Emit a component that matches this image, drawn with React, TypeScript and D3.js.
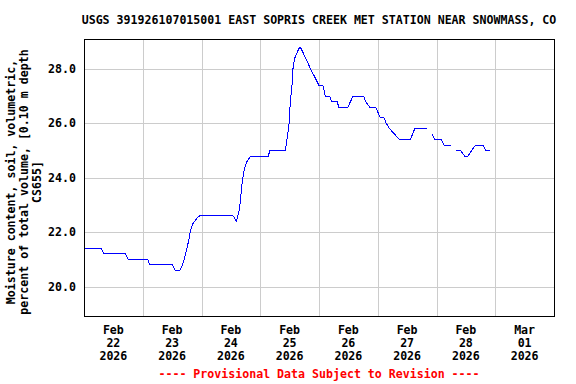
import React from "react";
import * as d3 from "d3";

const TITLE = "USGS 391926107015001 EAST SOPRIS CREEK MET STATION NEAR SNOWMASS, CO";
const Y_LABEL_LINES = [
  "Moisture content, soil, volumetric,",
  "percent of total volume, [0.10 m depth",
  "CS655]",
];
const FOOTER = "---- Provisional Data Subject to Revision ----";

// hours since 2026-02-22 00:00
const hours: number[] = [
  0, 7.1, 8.05, 17.0, 18.1, 26.1, 26.8, 36.1, 37.2, 39.1, 40.3, 41.5, 42.8, 43.6, 44.4, 45.2, 46.4, 47.3,
  60.9, 62.3, 63.6, 64.7, 65.6, 66.6, 68.1, 75.3, 75.9, 82.3, 82.7, 83.7, 84.3, 85.0, 85.4, 86.1, 87.0, 87.8,
  88.4, 89.5, 92.6, 96.0, 97.6, 98.6, 100.4, 101.1, 103.4, 104.1, 107.8, 109.9, 114.3, 115.1, 116.7, 119.2,
  120.1, 121.1, 122.6, 123.5, 124.9, 126.9, 129.0, 133.3, 135.1, 140.3, 141.3, 142.3, 143.3, 146.0, 147.1,
  150.1, 151.0, 151.8, 153.9, 155.5, 156.9, 158.3, 159.9, 163.0, 164.1, 165.7,
];
const values: (number | null)[] = [
  21.4, 21.4, 21.2, 21.2, 21.0, 21.0, 20.8, 20.8, 20.6, 20.6, 20.8, 21.2, 21.7, 22.1, 22.3, 22.4, 22.55, 22.6,
  22.6, 22.4, 22.9, 23.9, 24.35, 24.6, 24.8, 24.8, 25.0, 25.0, 25.3, 25.9, 26.8, 27.45, 28.05, 28.4, 28.6, 28.75,
  28.8, 28.6, 28.0, 27.4, 27.4, 27.0, 27.0, 26.8, 26.8, 26.6, 26.6, 27.0, 27.0, 26.8, 26.6, 26.6,
  26.4, 26.2, 26.2, 26.0, 25.8, 25.6, 25.4, 25.4, 25.8, 25.8, null, 25.6, 25.4, 25.4, 25.2,
  25.2, null, 25.0, 25.0, 24.8, 24.8, 25.0, 25.2, 25.2, 25.0, 25.0,
];

const Y_TICKS = [20, 22, 24, 26, 28];
const Y_DOMAIN = [18.916, 29.106];
const START = new Date(2026, 1, 22, 0, 0);
const END = new Date(2026, 2, 2, 0, 0);

const W = 576, H = 384;
const L = 84, R = 554, T = 39, B = 316;
const FONT = "'DejaVu Sans Mono', monospace";

export default function App() {
  const x = d3.scaleTime().domain([START, END]).range([L, R]);
  const y = d3.scaleLinear().domain(Y_DOMAIN).range([B, T]);
  const days = d3.timeDay.range(START, END);
  const gridDays = d3.timeDay.range(d3.timeDay.offset(START, 1), END);
  const pts = hours.map((h, i) => ({ t: new Date(START.getTime() + h * 3600000), v: values[i] }));
  const line = d3
    .line<{ t: Date; v: number | null }>()
    .defined((d) => d.v !== null)
    .x((d) => x(d.t))
    .y((d) => y(d.v as number));
  const fmtMon = d3.timeFormat("%b");
  const fmtDay = d3.timeFormat("%d");
  const fmtYear = d3.timeFormat("%Y");
  const cy = 182;
  return (
    <svg width={W} height={H} style={{ position: "absolute", left: 0, top: 0, background: "#fff" }}>
      <rect x={0} y={0} width={W} height={H} fill="#fff" />
      <text x={(L + R) / 2} y={24} textAnchor="middle" fontFamily={FONT} fontWeight="bold" fontSize={11.6} fill="#000">
        {TITLE}
      </text>
      {Y_TICKS.map((t) => (
        <line key={"gy" + t} x1={L} x2={R} y1={Math.round(y(t)) + 0.5} y2={Math.round(y(t)) + 0.5} stroke="#cccccc" strokeWidth={1} />
      ))}
      {gridDays.map((d, i) => (
        <line key={"gx" + i} x1={Math.round(x(d)) + 0.5} x2={Math.round(x(d)) + 0.5} y1={T} y2={B} stroke="#cccccc" strokeWidth={1} />
      ))}
      <path d={line(pts) || ""} fill="none" stroke="#0000ff" strokeWidth={1} shapeRendering="crispEdges" />
      <rect x={L + 0.5} y={T + 0.5} width={R - L} height={B - T} fill="none" stroke="#000" strokeWidth={1} />
      {Y_TICKS.map((t) => (
        <text key={"yl" + t} x={76} y={y(t) + 4} textAnchor="end" fontFamily={FONT} fontWeight="bold" fontSize={11.6} fill="#000">
          {t.toFixed(1)}
        </text>
      ))}
      {days.map((d, i) => {
        const cx = x(d3.timeHour.offset(d, 12));
        return (
          <text key={"xl" + i} textAnchor="middle" fontFamily={FONT} fontWeight="bold" fontSize={11.6} fill="#000">
            <tspan x={cx} y={334}>{fmtMon(d)}</tspan>
            <tspan x={cx} y={347}>{fmtDay(d)}</tspan>
            <tspan x={cx} y={360}>{fmtYear(d)}</tspan>
          </text>
        );
      })}
      <g transform={`translate(0,${cy}) rotate(-90)`}>
        {Y_LABEL_LINES.map((s, i) => (
          <text key={"yt" + i} x={0} y={15 + i * 13} textAnchor="middle" fontFamily={FONT} fontWeight="bold" fontSize={11.6} fill="#000">
            {s}
          </text>
        ))}
      </g>
      <text x={(L + R) / 2} y={378} textAnchor="middle" fontFamily={FONT} fontWeight="bold" fontSize={11.6} fill="#ff0000">
        {FOOTER}
      </text>
    </svg>
  );
}
